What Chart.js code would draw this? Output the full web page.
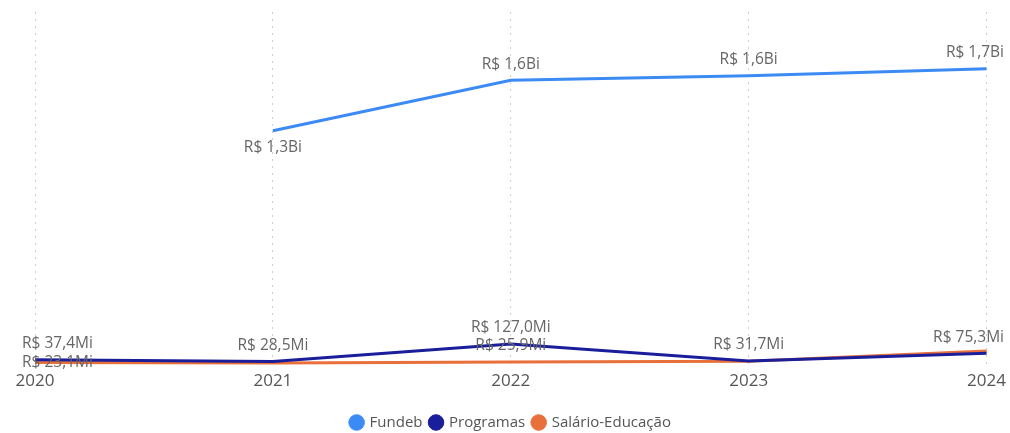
<!DOCTYPE html>
<html>
<head>
<meta charset="utf-8">
<script src="https://cdn.jsdelivr.net/npm/chart.js@4.4.1/dist/chart.umd.min.js"></script>
<style>
  html, body { margin: 0; padding: 0; background: #fff; }
  #wrap { width: 1010px; height: 433px; }
</style>
</head>
<body>
<div id="wrap"><canvas id="chart"></canvas></div>
<script>
// values in millions of R$
const years = ["2020", "2021", "2022", "2023", "2024"];
const fundeb = [null, 1330, 1615, 1640, 1680];
const programas = [37.4, 28.5, 127.0, 31.7, 75.3];
const salario = [23.1, 20.0, 25.9, 30.0, 88.0];

// where each value label sits (null = hidden, like the overlapping ones in the original)
const fundebLabels = [null, "below", "above", "above", "above"];
const programasLabels = ["above", "above", "above", "above", "above"];
const salarioLabels = ["center", null, "above", null, null];

const fontFamily = "'Segoe UI', 'Open Sans', 'Noto Sans', sans-serif";

function fmt(v) {
  if (v >= 1000) return "R$ " + (v / 1000).toFixed(1).replace(".", ",") + "Bi";
  return "R$ " + v.toFixed(1).replace(".", ",") + "Mi";
}

const valueLabels = {
  id: "valueLabels",
  afterDatasetsDraw(chart) {
    const ctx = chart.ctx;
    ctx.save();
    ctx.font = "15.5px " + fontFamily;
    ctx.fillStyle = "#666666";
    ctx.textAlign = "center";
    ctx.textBaseline = "middle";
    chart.data.datasets.forEach((ds, i) => {
      const meta = chart.getDatasetMeta(i);
      meta.data.forEach((pt, j) => {
        const v = ds.data[j];
        const place = ds.labelPlace[j];
        if (v == null || !place) return;
        const text = fmt(v);
        const w = ctx.measureText(text).width;
        let x = pt.x;
        x = Math.max(22 + w / 2, Math.min(1004 - w / 2, x));
        let y = pt.y;
        if (place === "above") y -= 16;
        if (place === "below") y += 17;
        ctx.fillText(text, x, y);
      });
    });
    ctx.restore();
  }
};

new Chart(document.getElementById("chart"), {
  type: "line",
  data: {
    labels: years,
    datasets: [
      {
        label: "Fundeb",
        data: fundeb,
        labelPlace: fundebLabels,
        borderColor: "#3C8BF5",
        backgroundColor: "#3C8BF5",
      },
      {
        label: "Programas",
        data: programas,
        labelPlace: programasLabels,
        borderColor: "#1B1E9A",
        backgroundColor: "#1B1E9A",
      },
      {
        label: "Salário-Educação",
        data: salario,
        labelPlace: salarioLabels,
        borderColor: "#E8703A",
        backgroundColor: "#E8703A",
      },
    ],
  },
  options: {
    responsive: true,
    maintainAspectRatio: false,
    animation: false,
    spanGaps: false,
    elements: {
      line: { borderWidth: 3, tension: 0 },
      point: { radius: 0, hoverRadius: 0 },
    },
    layout: { padding: { left: 35, right: 23, top: 12, bottom: -7 } },
    scales: {
      x: {
        offset: false,
        afterFit(scale) { scale.height = 40.5; },
        grid: {
          display: true,
          drawTicks: false,
          color: "#cfcfcf",
          lineWidth: 1,
        },
        border: { display: false, dash: [2, 5] },
        ticks: {
          padding: 4,
          color: "#555555",
          font: { size: 17, family: fontFamily },
          maxRotation: 0,
        },
      },
      y: {
        display: false,
        min: 0,
        max: 2000,
      },
    },
    plugins: {
      legend: {
        position: "bottom",
        labels: {
          usePointStyle: true,
          pointStyle: "circle",
          boxWidth: 11,
          boxHeight: 11,
          padding: 8,
          color: "#555555",
          font: { size: 15, family: fontFamily },
        },
      },
      tooltip: { enabled: false },
    },
  },
  plugins: [valueLabels],
});
</script>
</body>
</html>
